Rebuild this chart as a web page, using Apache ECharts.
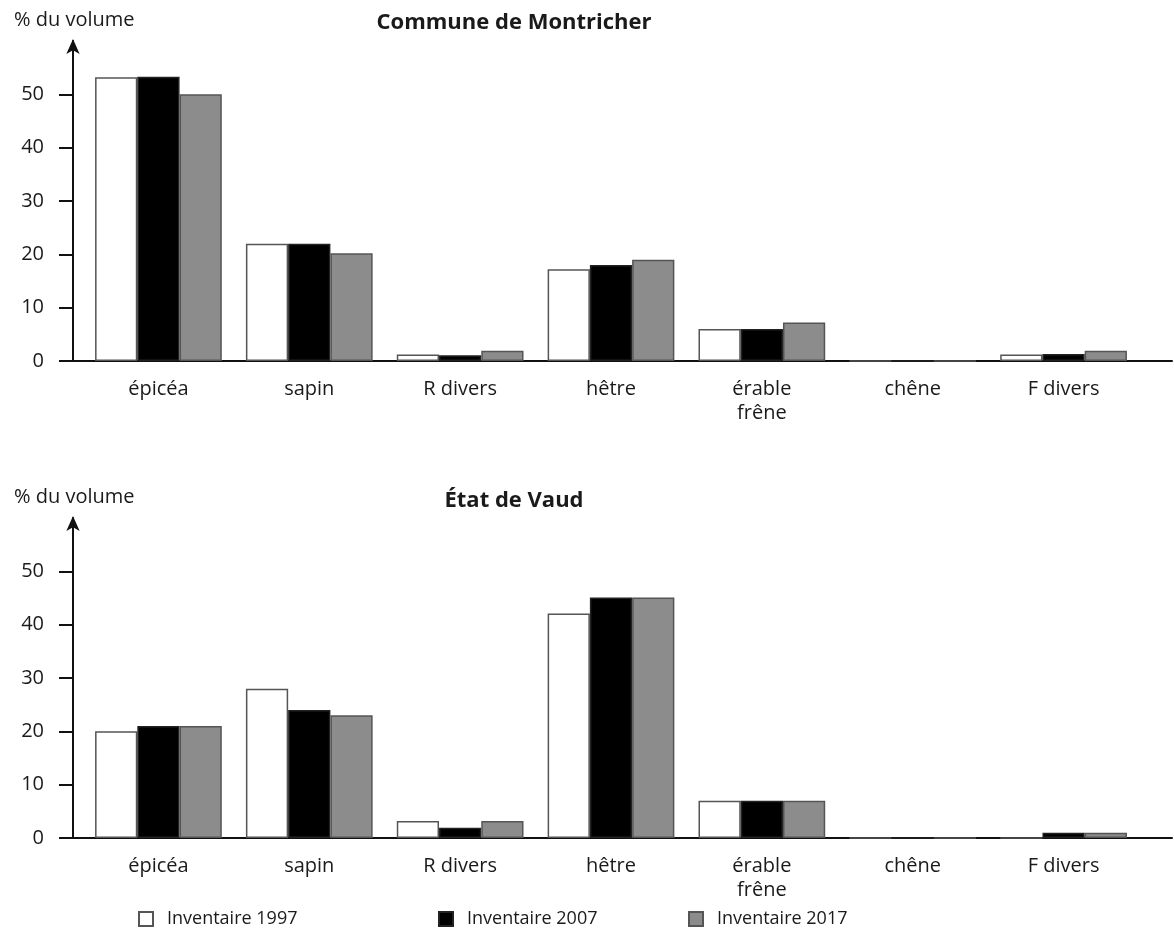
<!DOCTYPE html>
<html>
<head>
<meta charset="utf-8">
<script src="https://cdn.jsdelivr.net/npm/echarts@6/dist/echarts.min.js"></script>
<style>
  html, body { margin: 0; padding: 0; background: #fff; }
  #chart { width: 1174px; height: 940px; }
</style>
</head>
<body>
<div id="chart"></div>
<script>
// ---- data ----
const categories = ['épicéa', 'sapin', 'R divers', 'hêtre', 'érable\nfrêne', 'chêne', 'F divers'];
const seriesNames = ['Inventaire 1997', 'Inventaire 2007', 'Inventaire 2017'];
const yTicks = [0, 10, 20, 30, 40, 50];

const montricher1997 = [53.2, 22.0, 1.2, 17.2, 6.0, 0, 1.2];
const montricher2007 = [53.3, 22.0, 1.1, 18.0, 6.0, 0, 1.3];
const montricher2017 = [50.0, 20.2, 1.9, 19.0, 7.2, 0, 1.9];

const vaud1997 = [20.0, 28.0, 3.2, 42.1, 7.0, 0, 0];
const vaud2007 = [21.0, 24.0, 1.9, 45.1, 7.0, 0, 1.0];
const vaud2017 = [21.0, 23.0, 3.2, 45.1, 7.0, 0, 1.0];

const chartTitles = ['Commune de Montricher', 'État de Vaud'];
const yName = '% du volume';

// ---- styles ----
const FONT = '"Open Sans", "Noto Sans", sans-serif';
const TXT = '#1a1a1a';
const fills = ['#ffffff', '#000000', '#8c8c8c'];
const borders = ['#555555', '#222222', '#555555'];

const grids = [
  { left: 83, right: 35, top: 41, bottom: 579 },
  { left: 83, right: 35, top: 518, bottom: 102 },
  // helper grids to draw the long baseline
  { left: 73, right: 2, top: 41, bottom: 579 },
  { left: 73, right: 2, top: 518, bottom: 102 }
];

function catAxis(gi) {
  return {
    type: 'category', gridIndex: gi, data: categories,
    axisLine: { show: false }, axisTick: { show: false },
    axisLabel: { color: TXT, fontSize: 20, fontFamily: FONT, margin: 16, lineHeight: 24 }
  };
}
function lineAxis(gi) {
  return {
    type: 'value', gridIndex: gi, min: 0, max: 1,
    axisLine: { show: true, lineStyle: { color: '#111', width: 2 } },
    axisTick: { show: false }, axisLabel: { show: false }, splitLine: { show: false }
  };
}
function valAxis(gi) {
  return {
    type: 'value', gridIndex: gi, min: 0, max: 60, interval: 10, offset: 10,
    axisLine: { show: true, symbol: ['none', 'arrow'], symbolSize: [10, 15], symbolOffset: [0, 2],
      lineStyle: { color: '#111', width: 2 } },
    axisTick: { show: true, length: 14, lineStyle: { color: '#111', width: 2 }, customValues: yTicks },
    axisLabel: { color: TXT, fontSize: 20, fontFamily: FONT, margin: 29, customValues: yTicks,
      formatter: v => (v > 50 ? '' : String(v)) },
    splitLine: { show: false }
  };
}
function hiddenY(gi) {
  return { type: 'value', gridIndex: gi, min: 0, max: 1, show: false };
}

const allData = [
  [montricher1997, montricher2007, montricher2017],
  [vaud1997, vaud2007, vaud2017]
];

const series = [];
allData.forEach((set, gi) => {
  set.forEach((vals, si) => {
    series.push({
      type: 'bar', name: seriesNames[si], xAxisIndex: gi, yAxisIndex: gi,
      data: vals, barGap: '0%', barCategoryGap: '16%',
      itemStyle: { color: fills[si], borderColor: borders[si], borderWidth: 1.5 },
      emphasis: { disabled: true }, silent: true
    });
  });
});

const legendX = [133, 433, 683];
const legends = seriesNames.map((n, i) => ({
  data: [n], left: legendX[i], top: 905, orient: 'horizontal',
  icon: 'rect', itemWidth: 14, itemHeight: 14,
  textStyle: { color: TXT, fontSize: 18, fontFamily: FONT, padding: [0, 0, 0, 9] },
  selectedMode: false
}));

const titles = [
  { text: chartTitles[0], left: 509, top: 7, textAlign: 'center',
    textStyle: { fontSize: 22, fontWeight: 'bold', color: TXT, fontFamily: FONT } },
  { text: chartTitles[1], left: 509, top: 485, textAlign: 'center',
    textStyle: { fontSize: 22, fontWeight: 'bold', color: TXT, fontFamily: FONT } },
  { text: yName, left: 9, top: 5,
    textStyle: { fontSize: 20, fontWeight: 'normal', color: TXT, fontFamily: FONT } },
  { text: yName, left: 9, top: 482,
    textStyle: { fontSize: 20, fontWeight: 'normal', color: TXT, fontFamily: FONT } }
];

const chart = echarts.init(document.getElementById('chart'), null, { renderer: 'canvas' });
chart.setOption({
  backgroundColor: '#fff',
  animation: false,
  title: titles,
  legend: legends,
  grid: grids,
  xAxis: [catAxis(0), catAxis(1), lineAxis(2), lineAxis(3)],
  yAxis: [valAxis(0), valAxis(1), hiddenY(2), hiddenY(3)],
  series: series
});
</script>
</body>
</html>
